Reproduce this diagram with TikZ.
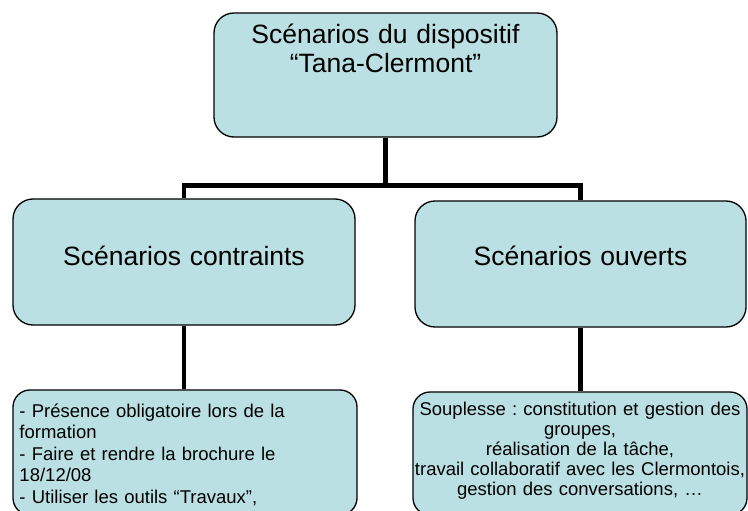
\documentclass[tikz,border=0pt]{standalone}
\usepackage{fontspec}
\setmainfont{Liberation Sans}
\frenchspacing
\definecolor{boxblue}{HTML}{BBE0E3}

\begin{document}
\begin{tikzpicture}[x=1pt, y=-1pt,
        box/.style={draw, fill=boxblue, line width=1.3pt, rounded corners=20pt, inner xsep=0pt, inner ysep=0pt, anchor=base, align=center},
        big/.style={font=\fontsize{26.5}{29}\selectfont},
        link/.style={line width=4.5pt}]
        \useasboundingbox (0,0) rectangle (748,511);
        \clip (0,0) rectangle (748,511);
        \node[box, big, text width=343pt, text height=31pt, text depth=93pt] (top) at (385.5,44) {Scénarios du dispositif\\“Tana-Clermont”};
        \node[box, big, text width=342pt, text height=66pt, text depth=60pt] (midL) at (184,265) {Scénarios contraints};
        \node[box, big, text width=331pt, text height=64pt, text depth=62pt] (midR) at (580.5,265) {Scénarios ouverts};
        \node[box, rounded corners=17pt, font=\fontsize{18.5}{21.5}\selectfont, align=left, inner xsep=6.5pt, text width=331pt, text height=27pt, text depth=98pt] (botL) at (185,417) {- Présence obligatoire lors de la\\formation\\- Faire et rendre la brochure le\\18/12/08\\- Utiliser les outils “Travaux”,};
        \node[box, rounded corners=17pt, font=\fontsize{18.5}{20}\selectfont, text width=334pt, text height=23pt, text depth=100pt] (botR) at (580,415) {Souplesse : constitution et gestion des\\groupes,\\réalisation de la tâche,\\travail collaboratif avec les Clermontois,\\gestion des conversations, …};
        \draw[link] (top.south) -- ++(0,48) -| (midL.north);
        \draw[link] (top.south) -- ++(0,48) -| (midR.north);
        \draw[link] (midL.south) -- (midL.south |- botL.north);
        \draw[link] (midR.south) -- (midR.south |- botR.north);
    \end{tikzpicture}
\end{document}
